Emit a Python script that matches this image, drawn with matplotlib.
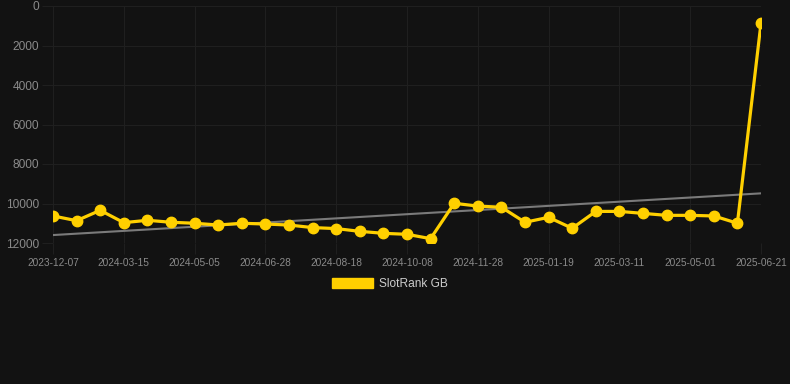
import numpy as np
import matplotlib
matplotlib.use("Agg")
import matplotlib.pyplot as plt
from matplotlib.patches import Patch

# Data (SlotRank GB, equally spaced observations)
tick_labels = ["2023-12-07", "2024-03-15", "2024-05-05", "2024-06-28", "2024-08-18",
               "2024-10-08", "2024-11-28", "2025-01-19", "2025-03-11", "2025-05-01",
               "2025-06-21"]
rank_values = [10630, 10870, 10345, 10970, 10850, 10950, 11000, 11090, 11000, 11040,
               11090, 11220, 11270, 11410, 11510, 11560, 11780, 9990, 10130, 10190,
               10950, 10700, 11255, 10400, 10400, 10500, 10600, 10600, 10630, 11000,
               870]
series_name = "SlotRank GB"
y_ticks = [0, 2000, 4000, 6000, 8000, 10000, 12000]

BG = "#121212"
GRID = "#1f1f1f"
YELLOW = "#FFD000"

plt.rcParams["font.family"] = ["Liberation Sans", "DejaVu Sans"]

fig = plt.figure(figsize=(7.9, 3.84), dpi=100, facecolor=BG)
ax = fig.add_axes([53 / 790, 1 - 243 / 384, (761 - 53) / 790, (243 - 6) / 384], facecolor=BG)

x = np.arange(len(rank_values))
vals = np.array(rank_values, dtype=float)

# linear trend
coef = np.polyfit(x, vals, 1)
ax.plot(x, np.polyval(coef, x), color="#7a7a7a", lw=1.5, zorder=2)

ax.plot(x, vals, color=YELLOW, lw=2.3, marker="o", markersize=7.5,
        markerfacecolor=YELLOW, markeredgecolor=YELLOW, zorder=3)

ax.set_xlim(0, len(rank_values) - 1)
ax.set_ylim(12000, 0)
ax.set_yticks(y_ticks)
ax.set_yticklabels([str(v) for v in y_ticks])
tick_pos = x[::3]
ax.set_xticks(tick_pos)
ax.set_xticklabels(tick_labels)

ax.grid(True, color=GRID, lw=0.8)
ax.set_axisbelow(True)
for s in ax.spines.values():
    s.set_visible(False)
ax.tick_params(axis="y", length=8, color=GRID, labelcolor="#8a8a8a", labelsize=8.6, pad=2)
ax.tick_params(axis="x", length=8, color=GRID, labelcolor="#8a8a8a", labelsize=7.3, pad=3)

handle = Patch(facecolor=YELLOW, edgecolor=YELLOW)
leg = fig.legend([handle], [series_name], loc="center", bbox_to_anchor=(390 / 790, 1 - 284 / 384),
                 frameon=False, handlelength=3.4, handleheight=0.9, handletextpad=0.5,
                 prop={"size": 8.6})
for t in leg.get_texts():
    t.set_color("#cccccc")

fig.savefig("out.png", dpi=100, facecolor=BG)
